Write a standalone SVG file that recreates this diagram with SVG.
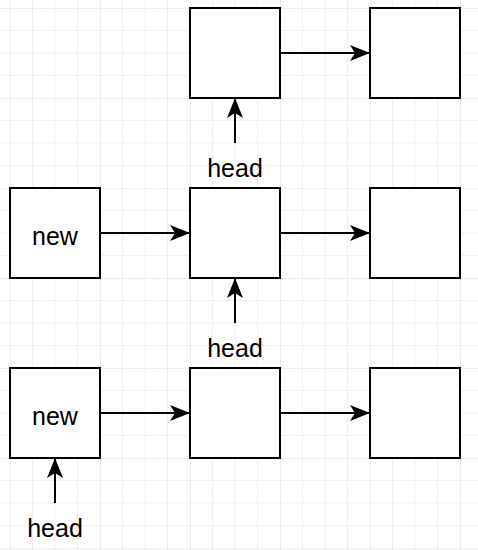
<svg xmlns="http://www.w3.org/2000/svg" width="478" height="550" viewBox="0 0 478 550">
<style>
.box{fill:#fff;stroke:#000;stroke-width:2}
.edge{stroke:#000;stroke-width:2;fill:none;marker-end:url(#arr)}
.lbl{font-family:"Liberation Sans",Arial,sans-serif;font-size:25px;fill:#000;text-anchor:middle}
</style>
<defs>
<marker id="arr" markerUnits="userSpaceOnUse" viewBox="0 0 20 16" refX="20" refY="8" markerWidth="20" markerHeight="16" orient="auto">
<path d="M0,0 L20,8 L0,16 L5,8 Z" fill="#000"/>
</marker>
<pattern id="grid" patternUnits="userSpaceOnUse" x="10" y="8" width="90" height="90">
<path d="M22.5,0V90M45,0V90M67.5,0V90M0,22.5H90M0,45H90M0,67.5H90" stroke="#f0f0f0" stroke-width="1" fill="none"/>
<path d="M0,0V90M0,0H90" stroke="#dcdcdc" stroke-width="1" fill="none"/>
</pattern>
</defs>
<rect width="478" height="550" fill="#fff"/>
<rect width="478" height="550" fill="url(#grid)"/>
<g id="connectors">
<path class="edge" d="M280,53H370"/>
<path class="edge" d="M235,143V98"/>
<path class="edge" d="M100,233H190"/>
<path class="edge" d="M280,233H370"/>
<path class="edge" d="M235,323V278"/>
<path class="edge" d="M100,413H190"/>
<path class="edge" d="M280,413H370"/>
<path class="edge" d="M55,503V458"/>
</g>
<g id="r1b1"><rect class="box" x="190" y="8" width="90" height="90"/></g>
<g id="r1b2"><rect class="box" x="370" y="8" width="90" height="90"/></g>
<g id="head1"><text class="lbl" x="235" y="176.5">head</text></g>
<g id="r2new"><rect class="box" x="10" y="188" width="90" height="90"/><text class="lbl" x="55" y="244.5">new</text></g>
<g id="r2b1"><rect class="box" x="190" y="188" width="90" height="90"/></g>
<g id="r2b2"><rect class="box" x="370" y="188" width="90" height="90"/></g>
<g id="head2"><text class="lbl" x="235" y="356.5">head</text></g>
<g id="r3new"><rect class="box" x="10" y="368" width="90" height="90"/><text class="lbl" x="55" y="424.5">new</text></g>
<g id="r3b1"><rect class="box" x="190" y="368" width="90" height="90"/></g>
<g id="r3b2"><rect class="box" x="370" y="368" width="90" height="90"/></g>
<g id="head3"><text class="lbl" x="55" y="536.5">head</text></g>
</svg>
